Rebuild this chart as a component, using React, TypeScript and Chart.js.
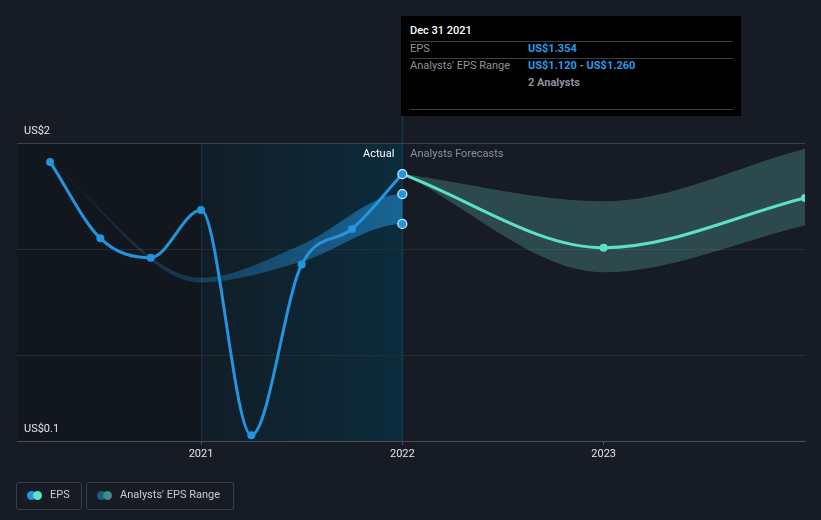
import React, { useEffect, useRef } from "react";
import { Chart, registerables } from "chart.js";

// ---------- data ----------
const actualDates = [2020.25, 2020.5, 2020.75, 2021.0, 2021.25, 2021.5, 2021.75, 2022.0];
const actualEps = [1.411, 1.052, 0.961, 1.185, 0.127, 0.929, 1.096, 1.354];

const pastRangeDates = [2020.25, 2021.0, 2021.5, 2022.0];
const pastRangeHigh = [1.411, 0.867, 1.022, 1.26];
const pastRangeLow = [1.411, 0.845, 0.943, 1.12];

const forecastDates = [2022.0, 2023.0, 2024.0];
const forecastEps = [1.354, 1.008, 1.242];
const forecastHigh = [1.354, 1.226, 1.473];
const forecastLow = [1.354, 0.893, 1.113];

const yGridValues = [0.1, 0.5, 1.0, 1.5];
const yTickLabels = ["US$0.1", "", "", "US$2"];
const xTickValues = [2021, 2022, 2023];
const xTickLabels = ["2021", "2022", "2023"];
const xMin = 2020.086;
const xMax = 2024.0;
const yMin = 0.1;
const yMax = 1.5;
const highlightStart = 2021;
const highlightEnd = 2022;
const tooltipDate = "Dec 31 2021";
const analystCount = 2;

// ---------- styles ----------
const BG = "#161b24";
const BLUE = "#2394df";
const TEAL = "#5ce1c9";
const FONT = "Roboto, 'Noto Sans', sans-serif";

const pts = (xs: number[], ys: number[]) => xs.map((x, i) => ({ x, y: ys[i] }));
const last = actualEps.length - 1;
const lastRange = pastRangeDates.length - 1;

// clip past range datasets at the end of the actual period
const clipPlugin = {
  id: "aaClipPast",
  beforeDatasetDraw(chart: any, args: any) {
    const ds = chart.data.datasets[args.index];
    if (ds.clipToX === undefined) return;
    const x = chart.scales.x.getPixelForValue(ds.clipToX);
    const a = chart.chartArea;
    const ctx = chart.ctx;
    ctx.save();
    ctx.beginPath();
    ctx.rect(a.left, a.top - 20, x - a.left, a.bottom - a.top + 40);
    ctx.clip();
  },
  afterDatasetDraw(chart: any, args: any) {
    const ds = chart.data.datasets[args.index];
    if (ds.clipToX === undefined) return;
    chart.ctx.restore();
  },
};
Chart.register(clipPlugin);
Chart.register(...registerables);

const decorPlugin = {
  id: "decor",
  beforeDraw(chart: any) {
    const { ctx, chartArea: a, scales } = chart;
    const xs = scales.x;
    const x1 = xs.getPixelForValue(highlightStart);
    const x2 = xs.getPixelForValue(highlightEnd);
    ctx.save();
    ctx.fillStyle = BG;
    ctx.fillRect(0, 0, chart.width, chart.height);
    ctx.fillStyle = "#12161d";
    ctx.fillRect(a.left, a.top, x1 - a.left, a.bottom - a.top);
    const g = ctx.createLinearGradient(x1, 0, x2, 0);
    g.addColorStop(0, "#111d26");
    g.addColorStop(1, "#0b2c3c");
    ctx.fillStyle = g;
    ctx.fillRect(x1, a.top, x2 - x1, a.bottom - a.top);
    ctx.strokeStyle = "#1a2f3b";
    ctx.lineWidth = 1;
    ctx.beginPath();
    ctx.moveTo(Math.round(x1) + 0.5, a.top);
    ctx.lineTo(Math.round(x1) + 0.5, a.bottom);
    ctx.stroke();
    ctx.strokeStyle = "#0f3a4f";
    ctx.lineWidth = 1.5;
    ctx.beginPath();
    ctx.moveTo(x2, a.top - 27);
    ctx.lineTo(x2, a.bottom);
    ctx.stroke();
    ctx.restore();
  },
  afterDraw(chart: any) {
    const { ctx, chartArea: a, scales } = chart;
    const x2 = scales.x.getPixelForValue(highlightEnd);
    ctx.save();
    ctx.font = `11px ${FONT}`;
    ctx.textBaseline = "middle";
    ctx.fillStyle = "#ffffff";
    ctx.textAlign = "right";
    ctx.fillText("Actual", x2 - 8, a.top + 11);
    ctx.fillStyle = "#8c9199";
    ctx.textAlign = "left";
    ctx.fillText("Analysts Forecasts", x2 + 8, a.top + 11);
    ctx.fillStyle = "#e6e6e6";
    yGridValues.forEach((v, i) => {
      if (!yTickLabels[i]) return;
      const y = scales.y.getPixelForValue(v);
      ctx.fillText(yTickLabels[i], a.left + 7, y - 12);
    });
    ctx.restore();
  },
};

function Tooltip() {
  const lbl: React.CSSProperties = { position: "absolute", lineHeight: "14px", whiteSpace: "nowrap" };
  const hr: React.CSSProperties = { position: "absolute", left: 9, width: 323, height: 1, background: "#3a3d42" };
  const blue = "#2a9be6";
  return (
    <div style={{ position: "absolute", left: 401, top: 16, width: 340, height: 100, background: "#000", fontSize: 11, color: "#8e9298", fontFamily: FONT }}>
      <div style={{ ...lbl, left: 9, top: 8, color: "#fff", fontWeight: 500 }}>{tooltipDate}</div>
      <div style={{ ...hr, top: 25 }} />
      <div style={{ ...lbl, left: 9, top: 26 }}>EPS</div>
      <div style={{ ...lbl, left: 127, top: 26, color: blue, fontWeight: 700 }}>US${actualEps[last].toFixed(3)}</div>
      <div style={{ ...hr, top: 42 }} />
      <div style={{ ...lbl, left: 9, top: 43 }}>Analysts' EPS Range</div>
      <div style={{ ...lbl, left: 127, top: 43, fontWeight: 700 }}>
        <span style={{ color: blue }}>US${pastRangeLow[lastRange].toFixed(3)}</span>
        <span style={{ color: "#8e9298" }}> - </span>
        <span style={{ color: blue }}>US${pastRangeHigh[lastRange].toFixed(3)}</span>
      </div>
      <div style={{ ...lbl, left: 127, top: 60, fontWeight: 700 }}>{analystCount} Analysts</div>
      <div style={{ ...hr, top: 93 }} />
    </div>
  );
}

function LegendItem({ left, width, c1, c2, text }: any) {
  const dot = (l: number, c: string): React.CSSProperties => ({
    position: "absolute", left: l, top: 8, width: 9, height: 9, borderRadius: "50%", background: c,
  });
  return (
    <div style={{ position: "absolute", left, top: 482, width, height: 28, boxSizing: "border-box", border: "1px solid #3a3f47", borderRadius: 3 }}>
      <div style={dot(10, c1)} />
      <div style={dot(16, c2)} />
      <div style={{ position: "absolute", left: 33, top: 5, lineHeight: "14px", fontSize: 11, color: "#c9ccd1", whiteSpace: "nowrap" }}>{text}</div>
    </div>
  );
}

export default function App() {
  const ref = useRef<HTMLCanvasElement>(null);
  useEffect(() => {
    document.body.style.margin = "0";
    document.body.style.background = BG;
    Chart.defaults.font.family = FONT;
    Chart.defaults.font.size = 11;
    const pastGradient = (c: any) => {
      const chart = c.chart;
      const a = chart.chartArea;
      if (!a) return "rgba(35,148,223,0.3)";
      const xs = chart.scales.x;
      const g = chart.ctx.createLinearGradient(xs.getPixelForValue(pastRangeDates[0]), 0, xs.getPixelForValue(highlightEnd), 0);
      g.addColorStop(0, "rgba(35,148,223,0.10)");
      g.addColorStop(1, "rgba(35,148,223,0.55)");
      return g;
    };
    const chart = new Chart(ref.current!, {
      type: "line",
      data: {
        datasets: [
          {
            label: "markers",
            data: [
              { x: actualDates[last], y: actualEps[last] },
              { x: pastRangeDates[lastRange], y: pastRangeHigh[lastRange] },
              { x: pastRangeDates[lastRange], y: pastRangeLow[lastRange] },
            ],
            showLine: false,
            pointRadius: 4.5,
            pointBackgroundColor: BLUE,
            pointBorderColor: "#dcefff",
            pointBorderWidth: 1.2,
            order: 0,
          },
          {
            label: "EPS",
            data: pts(actualDates, actualEps),
            borderColor: BLUE,
            borderWidth: 3,
            cubicInterpolationMode: "monotone",
            pointRadius: actualDates.map((_, i) => (i === last ? 0 : 4)),
            pointBackgroundColor: BLUE,
            pointBorderWidth: 0,
            fill: false,
            order: 1,
          },
          {
            label: "Forecast",
            data: pts(forecastDates, forecastEps),
            borderColor: TEAL,
            borderWidth: 3,
            cubicInterpolationMode: "monotone",
            pointRadius: forecastDates.map((_, i) => (i === 0 ? 0 : 4)),
            pointBackgroundColor: TEAL,
            pointBorderWidth: 0,
            fill: false,
            clip: 0,
            order: 2,
          },
          {
            label: "Forecast high",
            data: pts(forecastDates, forecastHigh),
            borderColor: "rgba(0,0,0,0)",
            borderWidth: 0,
            pointRadius: 0,
            cubicInterpolationMode: "monotone",
            fill: "+1",
            backgroundColor: "rgba(95,184,173,0.3)",
            order: 3,
          },
          {
            label: "Forecast low",
            data: pts(forecastDates, forecastLow),
            borderColor: "rgba(0,0,0,0)",
            borderWidth: 0,
            pointRadius: 0,
            cubicInterpolationMode: "monotone",
            fill: false,
            order: 4,
          },
          {
            label: "Range high",
            data: pts([...pastRangeDates, forecastDates[1]], [...pastRangeHigh, forecastHigh[1]]),
            borderColor: "rgba(0,0,0,0)",
            borderWidth: 0,
            pointRadius: 0,
            cubicInterpolationMode: "monotone",
            fill: "+1",
            backgroundColor: pastGradient,
            clipToX: highlightEnd,
            order: 5,
          } as any,
          {
            label: "Range low",
            data: pts([...pastRangeDates, forecastDates[1]], [...pastRangeLow, forecastLow[1]]),
            borderColor: "rgba(0,0,0,0)",
            borderWidth: 0,
            pointRadius: 0,
            cubicInterpolationMode: "monotone",
            fill: false,
            clipToX: highlightEnd,
            order: 6,
          } as any,
        ],
      },
      options: {
        responsive: false,
        animation: false,
        devicePixelRatio: 1,
        layout: { padding: { top: 143, left: 17, right: 16, bottom: 0 } },
        plugins: { legend: { display: false }, tooltip: { enabled: false } },
        events: [],
        scales: {
          x: {
            type: "linear",
            min: xMin,
            max: xMax,
            afterBuildTicks: (axis: any) => {
              axis.ticks = xTickValues.map((v) => ({ value: v }));
            },
            afterFit: (axis: any) => {
              axis.height = 79;
            },
            ticks: {
              color: "#e4e4e4",
              font: { size: 11 },
              padding: 3,
              maxRotation: 0,
              callback: (v: any) => xTickLabels[xTickValues.indexOf(Number(v))] ?? "",
            },
            grid: { drawOnChartArea: false, drawTicks: true, tickLength: 4, color: "#4a4f58" },
            border: { display: true, color: "#4a4f58", width: 1 },
          },
          y: {
            type: "linear",
            min: yMin,
            max: yMax,
            afterBuildTicks: (axis: any) => {
              axis.ticks = yGridValues.map((v) => ({ value: v }));
            },
            afterFit: (axis: any) => {
              axis.width = 0;
            },
            ticks: { display: false },
            grid: {
              drawTicks: false,
              color: (c: any) =>
                c.tick && c.tick.value === yMax ? "#3c424b" : c.tick && c.tick.value === yMin ? "rgba(0,0,0,0)" : "#262c35",
            },
            border: { display: false },
          },
        },
      },
      plugins: [decorPlugin],
    } as any);
    return () => chart.destroy();
  }, []);

  return (
    <div style={{ position: "relative", width: 821, height: 520, background: BG, overflow: "hidden", fontFamily: FONT }}>
      <canvas ref={ref} width={821} height={520} style={{ display: "block", width: 821, height: 520 }} />
      <Tooltip />
      <LegendItem left={16} width={66} c1={BLUE} c2={TEAL} text="EPS" />
      <LegendItem left={86} width={148} c1="#1e5b82" c2="#3e8a84" text="Analysts' EPS Range" />
    </div>
  );
}
